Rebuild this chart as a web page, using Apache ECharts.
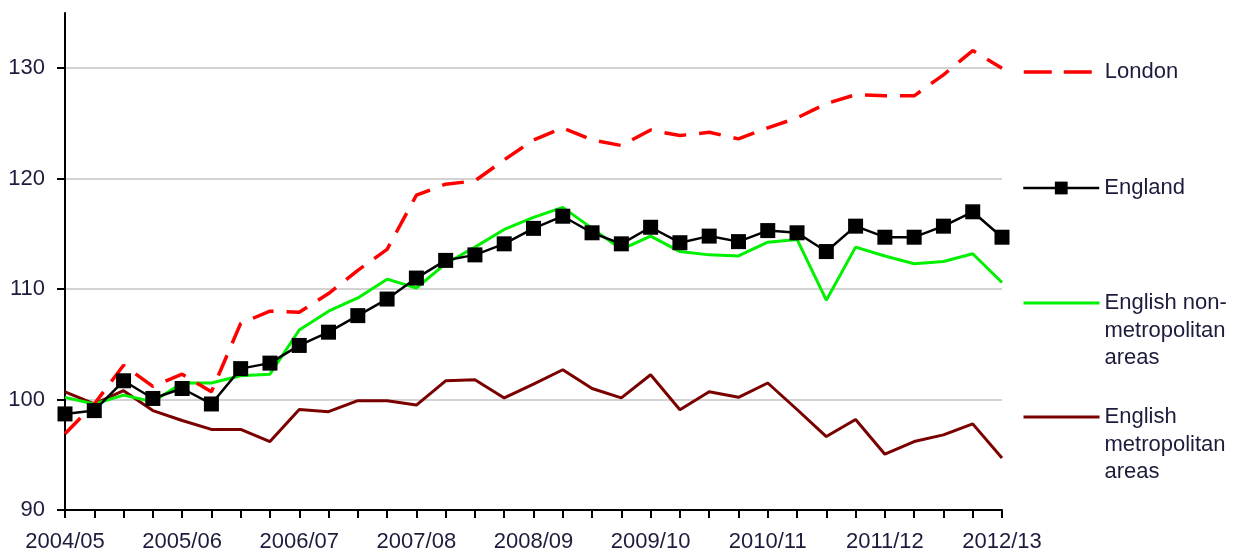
<!DOCTYPE html>
<html>
<head>
<meta charset="utf-8">
<script src="https://cdn.jsdelivr.net/npm/echarts@6/dist/echarts.min.js"></script>
<style>
  html, body { margin: 0; padding: 0; background: #fff; }
  #main { width: 1237px; height: 553px; }
</style>
</head>
<body>
<div id="main"></div>
<script>
// financial years, one point per quarter (last point is 2012/13 Q1)
var years = ['2004/05', '2005/06', '2006/07', '2007/08', '2008/09', '2009/10', '2010/11', '2011/12', '2012/13'];
var quarters = [];
years.forEach(function (y) {
  ['Q1', 'Q2', 'Q3', 'Q4'].forEach(function (q) { quarters.push(y + ' ' + q); });
});
quarters = quarters.slice(0, 33);

var yTicks = [90, 100, 110, 120, 130];

var london = [96.9, 99.6, 103.1, 101.2, 102.3, 100.7, 106.9, 108.0, 107.9, 109.6, 111.7,
  113.6, 118.5, 119.5, 119.8, 121.7, 123.5, 124.6, 123.5, 123.0, 124.4, 123.9,
  124.2, 123.6, 124.6, 125.5, 126.8, 127.6, 127.5, 127.5, 129.4, 131.6, 130.0];
var england = [98.7, 99.0, 101.7, 100.1, 101.0, 99.6, 102.8, 103.3, 104.9, 106.1, 107.6,
  109.1, 111.0, 112.6, 113.1, 114.1, 115.5, 116.6, 115.1, 114.1, 115.6, 114.2,
  114.8, 114.3, 115.3, 115.1, 113.4, 115.7, 114.7, 114.7, 115.7, 117.0, 114.7];
var nonMetro = [100.2, 99.6, 100.4, 99.8, 101.5, 101.5, 102.15, 102.3, 106.3, 108.0, 109.2,
  110.9, 110.1, 112.3, 113.8, 115.4, 116.5, 117.4, 115.5, 113.6, 114.8, 113.4,
  113.1, 113.0, 114.25, 114.5, 109.0, 113.8, 113.0, 112.3, 112.5, 113.2, 110.6];
var metro = [100.7, 99.6, 100.8, 99.0, 98.1, 97.3, 97.3, 96.2, 99.1, 98.9, 99.9,
  99.9, 99.5, 101.7, 101.8, 100.15, 101.4, 102.7, 101.0, 100.15, 102.25, 99.07,
  100.7, 100.2, 101.5, 99.1, 96.65, 98.2, 95.05, 96.2, 96.8, 97.8, 94.7];

var textColor = '#1c1c3c';
var font = 'Liberation Sans, Arial, sans-serif';
var lh = 27.5; // legend line height

function legendBox(name, top, opts) {
  var lg = {
    data: [name],
    orient: 'vertical',
    left: 1022,
    top: top,
    padding: 0,
    itemWidth: 76,
    itemHeight: 16,
    selectedMode: false,
    textStyle: { color: textColor, fontSize: 22, fontFamily: font, lineHeight: lh }
  };
  for (var k in opts) lg[k] = opts[k];
  return lg;
}

// two blank lines in front keep the icon level with the first text line
function firstLineAligned(name) { return '\n\n' + name; }

var option = {
  animation: false,
  grid: { left: 65, right: 235, top: 13, bottom: 43 },
  legend: [
    legendBox({ name: 'London', itemStyle: { opacity: 0 } }, 72 - lh / 2, {
      lineStyle: { width: 3.5, type: [28, 12] }
    }),
    legendBox({ name: 'England' }, 188 - lh / 2, { lineStyle: { width: 2.5 } }),
    legendBox({ name: 'English non-\nmetropolitan\nareas', itemStyle: { opacity: 0 } }, 303 - 2.5 * lh, {
      lineStyle: { width: 3 },
      formatter: firstLineAligned
    }),
    legendBox({ name: 'English\nmetropolitan\nareas', itemStyle: { opacity: 0 } }, 417 - 2.5 * lh, {
      lineStyle: { width: 3 },
      formatter: firstLineAligned
    })
  ],
  xAxis: {
    type: 'category',
    data: quarters,
    boundaryGap: false,
    axisLine: { lineStyle: { color: '#000', width: 2 } },
    axisTick: { interval: 0, length: 8, lineStyle: { color: '#000', width: 2 } },
    axisLabel: {
      interval: 3,
      margin: 21,
      color: textColor,
      fontSize: 22,
      fontFamily: font,
      formatter: function (v) { return v.split(' ')[0]; }
    },
    splitLine: { show: false }
  },
  yAxis: {
    type: 'value',
    min: 90,
    max: 135,
    interval: 10,
    axisLine: { show: true, lineStyle: { color: '#000', width: 2 } },
    axisTick: { show: true, length: 8, customValues: yTicks, lineStyle: { color: '#000', width: 2 } },
    axisLabel: { margin: 20, color: textColor, fontSize: 22, fontFamily: font, customValues: yTicks },
    splitLine: { show: true, lineStyle: { color: '#c4c4c4', width: 1.5 } }
  },
  series: [
    {
      name: 'English\nmetropolitan\nareas',
      type: 'line',
      data: metro,
      symbol: 'none',
      color: '#7a0000',
      lineStyle: { color: '#7a0000', width: 3 }
    },
    {
      name: 'English non-\nmetropolitan\nareas',
      type: 'line',
      data: nonMetro,
      symbol: 'none',
      color: '#00f000',
      lineStyle: { color: '#00f000', width: 3 }
    },
    {
      name: 'London',
      type: 'line',
      data: london,
      symbol: 'none',
      color: '#ff0000',
      lineStyle: { color: '#ff0000', width: 3.5, type: [22, 13] }
    },
    {
      name: 'England',
      type: 'line',
      data: england,
      symbol: 'rect',
      symbolSize: 15,
      color: '#000',
      itemStyle: { color: '#000', borderWidth: 0 },
      lineStyle: { color: '#000', width: 2.5 }
    }
  ]
};

var myChart = echarts.init(document.getElementById('main'));
myChart.setOption(option);
</script>
</body>
</html>
